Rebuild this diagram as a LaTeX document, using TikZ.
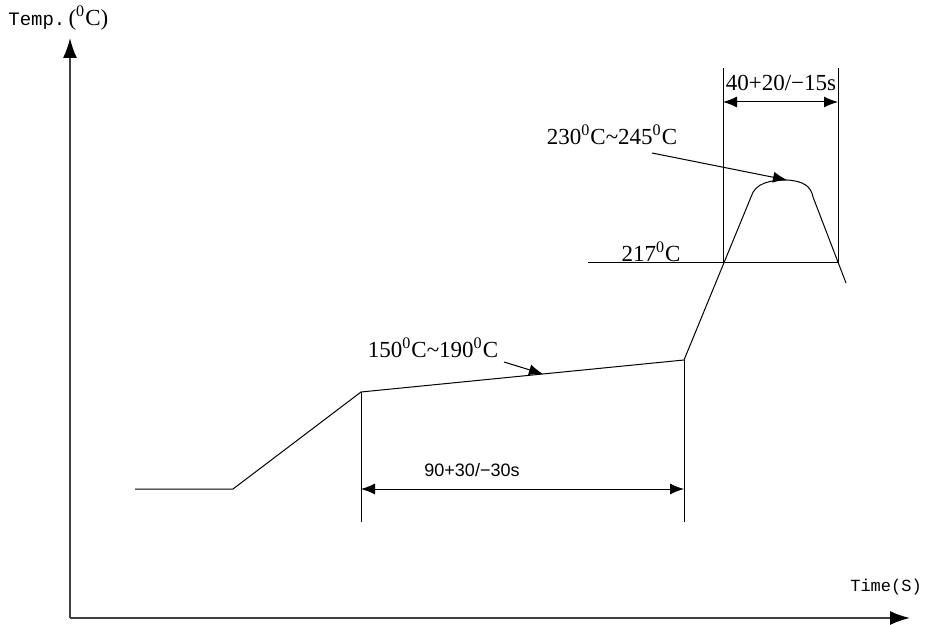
\documentclass[tikz,border=0pt]{standalone}
\usepackage{fontspec}
\setmainfont{Liberation Serif}
\setmonofont{Liberation Mono}
\setsansfont{Liberation Sans}
\usetikzlibrary{positioning,arrows.meta}
\newcommand{\degC}{\textsuperscript{0}C}

\begin{document}
\begin{tikzpicture}[
  x=0.5pt, y=-0.5pt,
  axis/.style={draw=black!75, line width=0.9pt, -{Latex[length=10pt,width=7pt,color=black]}},
  profile/.style={draw=black, line width=0.5pt},
  guide/.style={draw=black, line width=0.5pt},
  dimarrow/.style={draw=black, line width=0.5pt, {Latex[length=7pt,width=5.5pt]}-{Latex[length=7pt,width=5.5pt]}},
  pointer/.style={draw=black, line width=0.5pt, -{Latex[length=7pt,width=5.5pt]}},
  tlabel/.style={font=\fontsize{11.5}{13}\selectfont, inner sep=0pt},
  ttag/.style={font=\ttfamily\fontsize{9.5}{11}\selectfont, inner sep=0pt},
  stag/.style={font=\sffamily\fontsize{9}{11}\selectfont, inner sep=0pt}
]
\useasboundingbox (0,0) rectangle (931,625);

% axes
\coordinate (origin) at (70,618);
\coordinate (ytop) at (70,38);
\coordinate (xend) at (910,618);
\draw[axis] (origin) -- (ytop);
\draw[axis] (origin) -- (xend);
\node (tempLbl) [ttag, anchor=west] at (8,18) {Temp.\,{\rmfamily\fontsize{11.5}{13}\selectfont(\degC)}};
\node (timeLbl) [ttag, font=\ttfamily\fontsize{8.5}{10}\selectfont] at (886,587) {Time(S)};

% reflow profile
\coordinate (start) at (135,489);
\coordinate (rampL) at (233,489);
\coordinate (soakL) at (361,392);
\coordinate (soakR) at (684,360);
\coordinate (peakL) at (751,197);
\coordinate (peakT) at (787,180);
\coordinate (peakR) at (813,197);
\coordinate (fallEnd) at (846,283);
\draw[profile] (start) -- (rampL) -- (soakL) -- (soakR) -- (peakL)
  .. controls (755,183) and (770,180) .. (peakT)
  .. controls (803,181) and (811,186) .. (peakR) -- (fallEnd);

% soak window
\coordinate (soakLb) at (361,522);
\coordinate (soakRb) at (684,522);
\draw[guide] (soakL) -- (soakLb);
\draw[guide] (soakR) -- (soakRb);
\coordinate (dimSL) at (361,489);
\coordinate (dimSR) at (684,489);
\draw[dimarrow] (dimSL) -- (dimSR);
\node (soakTime) [stag] at (472,470) {90+30/−30s};

\node (soakTemp) [tlabel] at (433,348) {150\degC\textasciitilde190\degC};
\coordinate (soakFrom) at (504,362);
\coordinate (soakTo) at (543,374);
\draw[pointer] (soakFrom) -- (soakTo);

% liquidus window
\coordinate (liqL) at (588,263);
\coordinate (liqA) at (723,263);
\coordinate (liqB) at (838,263);
\draw[guide] (liqL) -- (liqB);
\node (liqTemp) [tlabel] at (651,252) {217\degC};
\coordinate (liqAt) at (723,68);
\coordinate (liqBt) at (838,68);
\draw[guide] (liqA) -- (liqAt);
\draw[guide] (liqB) -- (liqBt);
\coordinate (dimLA) at (723,102);
\coordinate (dimLB) at (838,102);
\draw[dimarrow] (dimLA) -- (dimLB);
\node (liqTime) [tlabel] at (781,83) {40+20/−15s};

% peak
\node (peakTemp) [tlabel] at (612,135) {230\degC\textasciitilde245\degC};
\coordinate (peakFrom) at (652,153);
\draw[pointer] (peakFrom) -- (peakT);

\end{tikzpicture}
\end{document}
